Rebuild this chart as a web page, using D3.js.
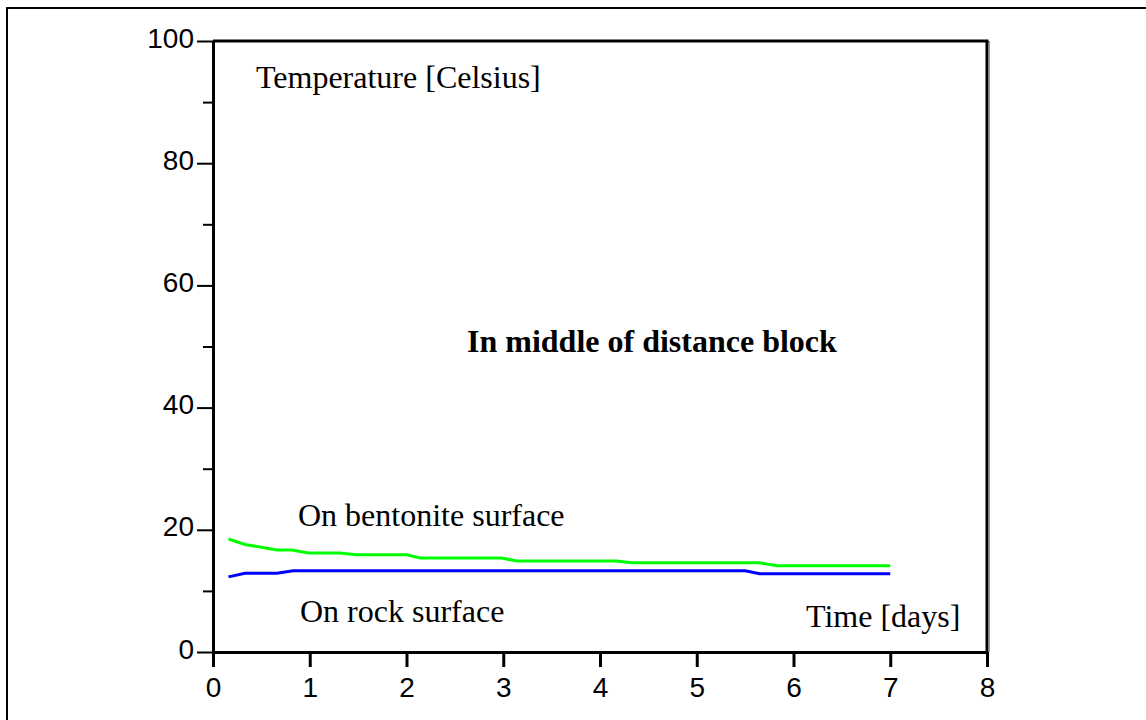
<!DOCTYPE html>
<html>
<head>
<meta charset="utf-8">
<script src="https://cdn.jsdelivr.net/npm/d3@7/dist/d3.min.js"></script>
<style>
  body { margin: 0; background: #fff; }
  svg { display: block; }
  .tick text { font-family: "Liberation Sans", Arial, sans-serif; font-size: 28px; fill: #000; }
  .note { font-family: "Liberation Serif", "Times New Roman", serif; font-size: 32px; fill: #000; }
</style>
</head>
<body>
<svg id="chart" width="1146" height="720"></svg>
<script>
// time in days, temperature in Celsius
var bentoniteDays = [0.16, 0.33, 0.66, 0.81, 0.99, 1.31, 1.48, 2.0, 2.14, 2.98, 3.14, 4.17, 4.33, 5.65, 5.83, 7.0];
var bentoniteTemp = [18.5, 17.6, 16.7, 16.7, 16.2, 16.2, 15.9, 15.9, 15.4, 15.4, 14.9, 14.9, 14.6, 14.6, 14.1, 14.1];
var rockDays = [0.16, 0.33, 0.66, 0.83, 5.5, 5.65, 7.0];
var rockTemp = [12.3, 12.9, 12.9, 13.3, 13.3, 12.8, 12.8];
var xTicks = [0, 1, 2, 3, 4, 5, 6, 7, 8];
var yTicks = [0, 20, 40, 60, 80, 100];
var yMinor = [10, 30, 50, 70, 90];

var svg = d3.select("#chart");

// outer frame (only top and left edges fall inside the picture)
svg.append("rect")
	.attr("x", 7).attr("y", 8)
	.attr("width", 1300).attr("height", 900)
	.attr("fill", "none")
	.attr("stroke", "#000")
	.attr("stroke-width", 2);

var plotLeft = 213, plotRight = 987, plotTop = 41, plotBottom = 652;

var xScale = d3.scaleLinear().domain([0, 8]).range([plotLeft, plotRight]);
var yScale = d3.scaleLinear().domain([0, 100]).range([plotBottom, plotTop]);

// frame of the plot
svg.append("line")
	.attr("x1", plotRight + 2.5).attr("x2", plotRight + 2.5)
	.attr("y1", plotTop).attr("y2", plotBottom)
	.attr("stroke", "#999").attr("stroke-width", 1);
svg.append("line")
	.attr("x1", plotLeft).attr("x2", plotRight + 1.5)
	.attr("y1", plotTop).attr("y2", plotTop)
	.attr("stroke", "#000").attr("stroke-width", 3);
svg.append("line")
	.attr("x1", plotRight).attr("x2", plotRight)
	.attr("y1", plotTop).attr("y2", plotBottom)
	.attr("stroke", "#000").attr("stroke-width", 3);

// minor y ticks
svg.append("g")
	.attr("transform", "translate(" + plotLeft + ",0)")
	.call(d3.axisLeft(yScale).tickValues(yMinor).tickSize(10).tickFormat(""))
	.call(g => g.select(".domain").remove())
	.selectAll("line").attr("stroke-width", 2);

var yAxis = svg.append("g")
	.attr("transform", "translate(" + plotLeft + ",0)")
	.call(d3.axisLeft(yScale).tickValues(yTicks).tickSize(16).tickSizeOuter(0).tickPadding(3));
yAxis.select(".domain").attr("stroke-width", 3);
yAxis.selectAll(".tick line").attr("stroke-width", 2);
yAxis.selectAll(".tick text").attr("dy", "0.22em");

var xAxis = svg.append("g")
	.attr("transform", "translate(0," + plotBottom + ")")
	.call(d3.axisBottom(xScale).tickValues(xTicks).tickSize(15).tickSizeOuter(0).tickPadding(10));
xAxis.select(".domain").attr("stroke-width", 3);
xAxis.selectAll(".tick line").attr("stroke-width", 3);
xAxis.selectAll(".tick text").attr("dy", "0.71em");

var line = d3.line()
	.x(d => xScale(d[0]))
	.y(d => yScale(d[1]));

svg.append("path")
	.datum(d3.zip(rockDays, rockTemp))
	.attr("d", line)
	.attr("fill", "none")
	.attr("stroke", "#0000ff")
	.attr("stroke-width", 3);

svg.append("path")
	.datum(d3.zip(bentoniteDays, bentoniteTemp))
	.attr("d", line)
	.attr("fill", "none")
	.attr("stroke", "#00ff00")
	.attr("stroke-width", 3);

// labels
function note(x, y, txt, bold) {
	svg.append("text")
		.attr("class", "note")
		.attr("x", x).attr("y", y)
		.style("font-weight", bold ? "bold" : "normal")
		.text(txt);
}
note(256, 88, "Temperature [Celsius]");
note(467, 352, "In middle of distance block", true);
note(298, 526, "On bentonite surface");
note(300, 622, "On rock surface");
note(806, 627, "Time [days]");
</script>
</body>
</html>
